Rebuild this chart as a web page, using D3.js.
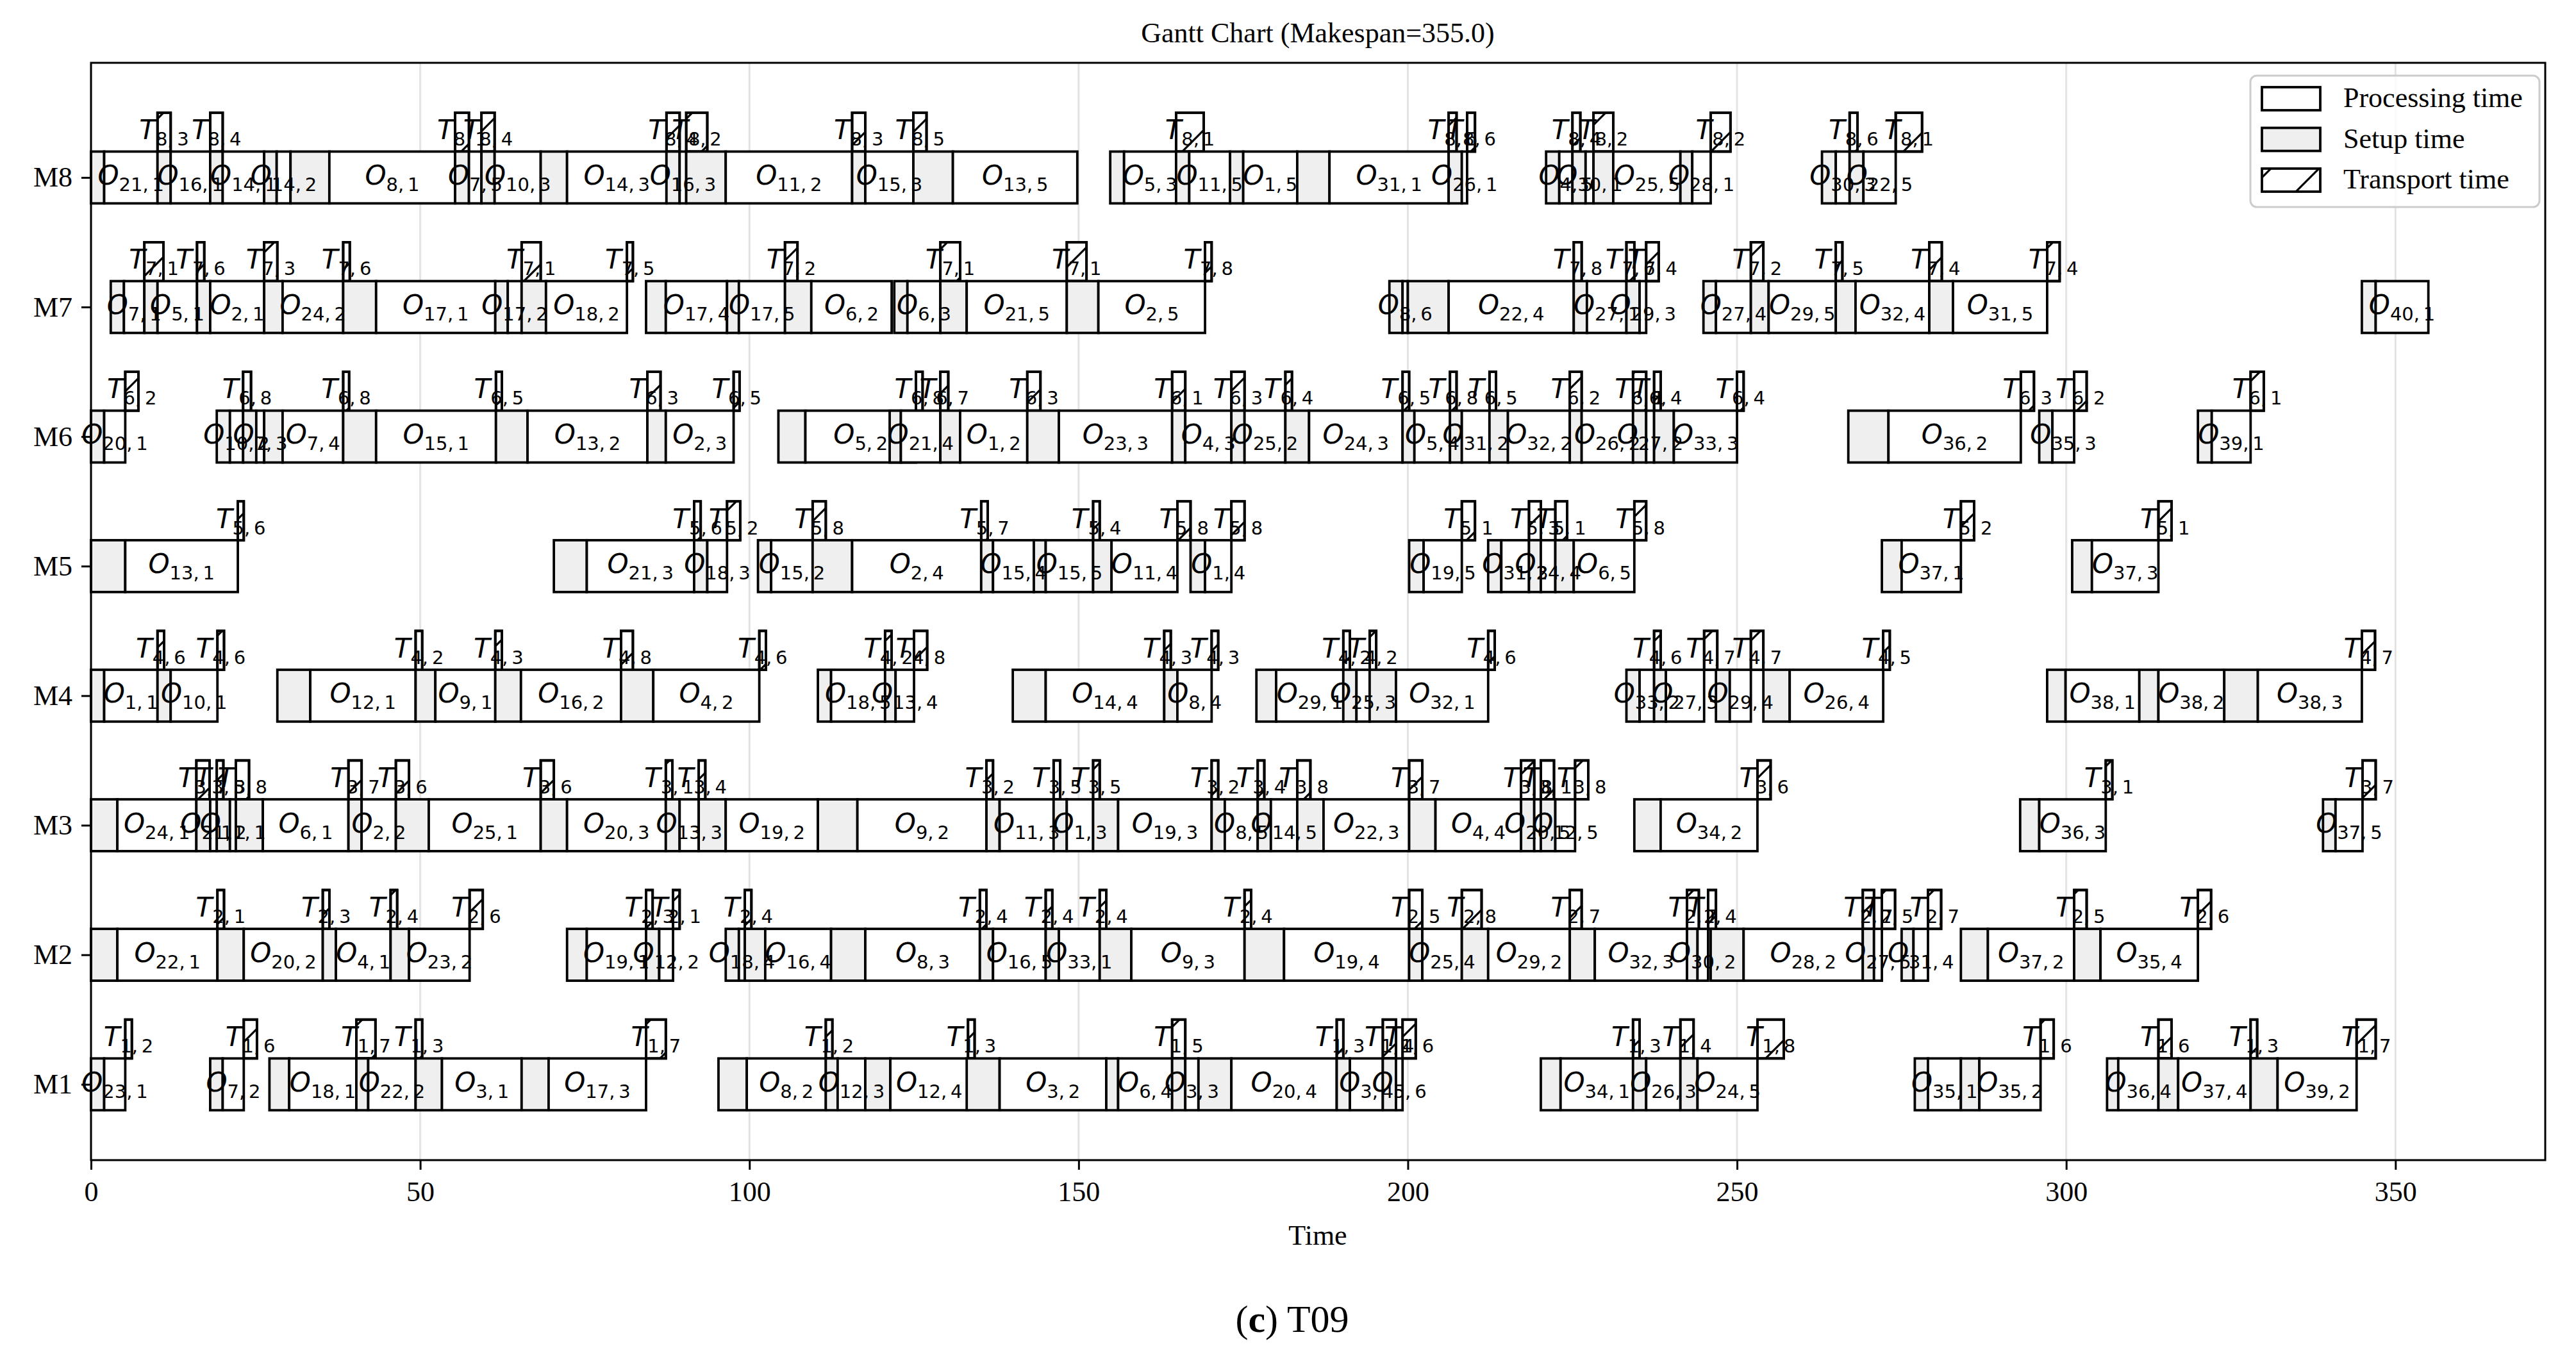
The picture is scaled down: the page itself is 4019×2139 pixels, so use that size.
<!DOCTYPE html>
<html>
<head>
<meta charset="utf-8">
<script src="https://cdn.jsdelivr.net/npm/d3@7"></script>
<style>
  body { margin: 0; background: #fff; }
</style>
</head>
<body>
<div id="chart"></div>
<script>
const machines = ["M1", "M2", "M3", "M4", "M5", "M6", "M7", "M8"];

// [operation, start, setup, processing, transport, transport time]
const opsM1 = [
  ["23,1", 0, 2.0, 3.2, "1,2", 1.0], ["7,2", 18.1, 1.9, 3.2, "1,6", 2.0],
  ["18,1", 27.1, 3.0, 10.2, "1,7", 2.9], ["22,2", 40.3, 1.8, 7.2, "1,3", 1.0],
  ["3,1", 49.3, 4.0, 12.1, null, 0], ["17,3", 65.4, 4.1, 14.8, "1,7", 3.0],
  ["8,2", 95.3, 4.3, 12.0, "1,2", 1.0], ["12,3", 111.6, 1.8, 4.2, null, 0],
  ["12,4", 117.6, 3.8, 11.8, "1,3", 1.0], ["3,2", 133.0, 5.0, 16.2, null, 0],
  ["6,4", 154.2, 1.8, 8.2, "1,5", 2.0], ["3,3", 164.2, 2.0, 2.0, null, 0],
  ["20,4", 168.2, 5.0, 16.0, "1,3", 1.0], ["3,4", 189.2, 2.0, 5.0, "1,4", 2.0],
  ["5,6", 196.2, 2.0, 1.0, "1,6", 2.0], ["34,1", 220.2, 3.0, 11.0, "1,3", 1.0],
  ["26,3", 234.2, 2.0, 5.2, "1,4", 2.0], ["24,5", 241.4, 2.6, 9.1, "1,8", 4.0],
  ["35,1", 277.0, 2.0, 5.0, null, 0], ["35,2", 284.0, 2.8, 9.3, "1,6", 2.0],
  ["36,4", 306.2, 1.7, 6.1, "1,6", 2.0], ["37,4", 314.0, 3.0, 11.0, "1,3", 1.0],
  ["39,2", 328.0, 4.1, 12.0, "1,7", 2.9]
];
const opsM2 = [
  ["22,1", 0, 4.0, 15.2, "2,1", 1.0], ["20,2", 19.2, 4.0, 12.0, "2,3", 1.0],
  ["4,1", 35.2, 2.0, 8.3, "2,4", 1.0], ["23,2", 45.5, 2.8, 9.2, "2,6", 2.0],
  ["19,1", 72.3, 3.0, 9.0, "2,3", 1.0], ["12,2", 84.3, 2.0, 2.1, "2,1", 1.0],
  ["18,4", 96.4, 2.0, 0.9, "2,4", 1.0], ["16,4", 99.3, 3.1, 10.0, null, 0],
  ["8,3", 112.4, 5.2, 17.4, "2,4", 1.0], ["16,5", 135.0, 2.0, 8.0, "2,4", 1.0],
  ["33,1", 145.0, 2.0, 6.2, "2,4", 1.0], ["9,3", 153.2, 4.8, 17.2, "2,4", 1.0],
  ["19,4", 175.2, 6.0, 19.0, "2,5", 2.0], ["25,4", 200.2, 2.0, 6.0, "2,8", 3.0],
  ["29,2", 208.2, 4.0, 12.4, "2,7", 1.8], ["32,3", 224.6, 3.8, 14.0, "2,7", 1.8],
  ["30,2", 242.4, 1.6, 1.6, "2,4", 1.2], ["28,2", 246.0, 5.0, 18.1, "2,7", 1.7],
  ["27,5", 269.1, 1.7, 1.2, "2,5", 2.0], ["31,4", 275.0, 1.8, 2.2, "2,7", 2.0],
  ["37,2", 284.0, 4.1, 13.1, "2,5", 1.9], ["35,4", 301.2, 4.0, 14.8, "2,6", 2.0]
];
const opsM3 = [
  ["24,1", 0, 4.0, 12.0, "3,7", 2.0], ["21,2", 16.0, 2.1, 1.0, "3,5", 1.0],
  ["11,1", 19.1, 2.0, 0.9, "3,8", 2.0], ["6,1", 22.0, 4.1, 13.0, "3,7", 2.0],
  ["2,2", 39.1, 2.0, 5.2, "3,6", 2.0], ["25,1", 46.3, 5.0, 17.0, "3,6", 2.0],
  ["20,3", 68.3, 4.0, 15.0, "3,1", 1.0], ["13,3", 87.3, 2.1, 2.9, "3,4", 1.0],
  ["19,2", 92.3, 4.1, 14.0, null, 0], ["9,2", 110.4, 6.0, 19.6, "3,2", 1.0],
  ["11,3", 136.0, 2.0, 8.2, "3,5", 1.0], ["1,3", 146.2, 2.0, 4.0, "3,5", 1.0],
  ["19,3", 152.2, 3.8, 14.2, "3,2", 1.0], ["8,5", 170.2, 2.0, 5.0, "3,4", 1.0],
  ["14,5", 177.2, 2.0, 4.0, "3,8", 2.0], ["22,3", 183.2, 4.0, 13.0, "3,7", 2.0],
  ["4,4", 200.2, 4.0, 13.0, "3,8", 2.0], ["20,5", 217.2, 2.0, 1.0, "3,1", 2.0],
  ["12,5", 220.2, 2.2, 3.0, "3,8", 2.0], ["34,2", 234.4, 4.0, 14.7, "3,6", 2.0],
  ["36,3", 293.0, 2.9, 10.1, "3,1", 1.0], ["37,5", 339.0, 1.9, 4.1, "3,7", 2.0]
];
const opsM4 = [
  ["1,1", 0, 2.0, 8.1, "4,6", 1.0], ["10,1", 10.1, 2.0, 7.1, "4,6", 1.0],
  ["12,1", 28.3, 5.0, 16.0, "4,2", 1.0], ["9,1", 49.3, 3.0, 9.1, "4,3", 1.0],
  ["16,2", 61.4, 3.9, 15.2, "4,8", 1.8], ["4,2", 80.5, 4.9, 16.1, "4,6", 1.0],
  ["18,5", 110.4, 2.0, 8.2, "4,2", 1.0], ["13,4", 120.6, 1.6, 2.8, "4,8", 2.0],
  ["14,4", 140.0, 5.0, 18.0, "4,3", 1.0], ["8,4", 163.0, 2.0, 5.2, "4,3", 1.0],
  ["29,1", 177.0, 3.0, 10.2, "4,2", 1.0], ["25,3", 190.2, 2.0, 2.0, "4,2", 1.0],
  ["32,1", 194.2, 4.0, 14.0, "4,6", 1.0], ["33,2", 233.2, 2.0, 2.2, "4,6", 1.0],
  ["27,3", 237.4, 1.8, 5.8, "4,7", 2.0], ["29,4", 246.8, 2.1, 3.2, "4,7", 1.9],
  ["26,4", 254.0, 4.0, 14.2, "4,5", 1.0], ["38,1", 297.1, 2.8, 11.2, null, 0],
  ["38,2", 311.1, 2.9, 10.0, null, 0], ["38,3", 324.0, 5.1, 15.8, "4,7", 2.0]
];
const opsM5 = [
  ["13,1", 0, 5.2, 17.1, "5,6", 0.9], ["21,3", 70.3, 5.0, 16.3, "5,6", 1.0],
  ["18,3", 91.6, 2.0, 3.0, "5,2", 2.0], ["15,2", 101.3, 2.0, 6.3, "5,8", 2.0],
  ["2,4", 109.6, 6.0, 19.6, "5,7", 1.0], ["15,4", 135.2, 1.8, 6.2, null, 0],
  ["15,5", 143.2, 1.8, 7.2, "5,4", 1.0], ["11,4", 152.2, 2.8, 10.0, "5,8", 2.0],
  ["1,4", 167.0, 2.2, 4.0, "5,8", 2.0], ["19,5", 200.2, 2.2, 5.8, "5,1", 2.0],
  ["31,3", 212.2, 2.0, 4.2, "5,3", 1.8], ["24,4", 218.4, 1.8, 2.2, "5,1", 1.8],
  ["6,5", 222.4, 2.8, 9.2, "5,8", 1.8], ["37,1", 272.0, 3.0, 9.0, "5,2", 2.0],
  ["37,3", 300.9, 3.0, 10.1, "5,1", 2.0]
];
const opsM6 = [
  ["20,1", 0, 2.0, 3.2, "6,2", 2.0], ["10,2", 19.1, 2.0, 2.0, "6,8", 1.2],
  ["7,3", 23.1, 2.0, 1.2, null, 0], ["7,4", 26.3, 2.8, 9.2, "6,8", 0.9],
  ["15,1", 38.3, 5.0, 18.2, "6,5", 0.9], ["13,2", 61.5, 4.8, 18.2, "6,3", 2.0],
  ["2,3", 84.5, 2.8, 10.3, "6,5", 0.9], ["5,2", 104.4, 4.1, 16.8, "6,8", 1.0],
  ["21,4", 121.3, 1.7, 6.0, "6,7", 1.2], ["1,2", 129.0, 3.0, 10.2, "6,3", 2.0],
  ["23,3", 142.2, 4.8, 17.2, "6,1", 2.0], ["4,3", 164.2, 2.0, 7.0, "6,3", 2.0],
  ["25,2", 173.2, 2.0, 6.2, "6,4", 1.0], ["24,3", 181.4, 3.6, 14.2, "6,5", 1.0],
  ["5,4", 199.2, 1.8, 5.4, "6,8", 1.0], ["31,2", 206.4, 1.8, 4.2, "6,5", 1.0],
  ["32,2", 212.4, 2.8, 9.4, "6,2", 1.8], ["26,2", 224.6, 1.8, 7.8, "6,1", 2.0],
  ["27,2", 234.2, 2.0, 1.2, "6,4", 1.0], ["33,3", 237.4, 3.0, 9.6, "6,4", 1.0],
  ["36,2", 266.9, 6.1, 20.1, "6,3", 2.0], ["35,3", 295.9, 2.0, 3.3, "6,2", 1.9],
  ["39,1", 320.0, 2.1, 5.9, "6,1", 2.0]
];
const opsM7 = [
  ["7,1", 3.0, 2.0, 3.1, "7,1", 2.9], ["5,1", 8.1, 2.0, 6.0, "7,6", 1.1],
  ["2,1", 16.1, 2.0, 8.2, "7,3", 2.0], ["24,2", 26.3, 2.8, 9.2, "7,6", 1.0],
  ["17,1", 38.3, 5.0, 18.1, null, 0], ["17,2", 61.4, 1.9, 2.1, "7,1", 2.9],
  ["18,2", 65.4, 3.7, 12.3, "7,5", 0.9], ["17,4", 84.3, 3.0, 9.3, null, 0],
  ["17,5", 96.6, 1.8, 7.0, "7,2", 1.9], ["6,2", 105.4, 4.0, 12.2, null, 0],
  ["6,3", 122.0, 2.0, 5.0, "7,1", 3.0], ["21,5", 129.0, 4.0, 15.2, "7,1", 3.0],
  ["2,5", 148.2, 4.8, 16.2, "7,8", 1.0], ["8,6", 197.2, 2.0, 0.8, null, 0],
  ["22,4", 200.0, 6.2, 19.0, "7,8", 1.2], ["27,1", 225.2, 2.0, 6.0, "7,6", 1.2],
  ["29,3", 233.2, 2.0, 1.0, "7,4", 1.9], ["27,4", 244.9, 1.9, 5.3, "7,2", 1.9],
  ["29,5", 252.1, 2.7, 10.2, "7,5", 1.0], ["32,4", 265.0, 3.0, 11.2, "7,4", 1.9],
  ["31,5", 279.2, 3.6, 14.3, "7,4", 1.9], ["40,1", 344.9, 2.1, 8.0, null, 0]
];
const opsM8 = [
  ["21,1", 0, 2.0, 8.1, "8,3", 2.0], ["16,1", 10.1, 2.0, 6.0, "8,4", 1.9],
  ["14,1", 18.1, 1.9, 6.3, null, 0], ["14,2", 26.3, 1.9, 2.1, null, 0],
  ["8,1", 30.3, 5.9, 19.1, "8,1", 2.1], ["7,5", 55.3, 2.1, 1.9, "8,4", 2.0],
  ["10,3", 59.3, 2.0, 7.0, null, 0], ["14,3", 68.3, 4.0, 15.1, "8,4", 2.0],
  ["16,3", 87.4, 2.0, 1.0, "8,2", 3.2], ["11,2", 90.4, 6.0, 19.2, "8,3", 2.0],
  ["15,3", 115.6, 2.0, 7.3, "8,5", 2.0], ["13,5", 124.9, 6.0, 18.9, null, 0],
  ["5,3", 154.8, 2.1, 7.9, "8,1", 4.2], ["11,5", 164.8, 2.0, 6.2, null, 0],
  ["1,5", 173.0, 2.0, 8.2, null, 0], ["31,1", 183.2, 4.9, 18.1, "8,6", 1.2],
  ["26,1", 206.2, 2.0, 0.8, "8,6", 1.2], ["4,5", 221.0, 2.0, 2.0, "8,4", 1.2],
  ["30,1", 225.0, 2.0, 1.2, "8,2", 3.0], ["25,5", 228.2, 3.0, 10.2, null, 0],
  ["28,1", 241.4, 1.8, 2.8, "8,2", 3.0], ["30,3", 262.9, 2.1, 2.1, "8,6", 1.2],
  ["22,5", 267.1, 2.1, 4.9, "8,1", 4.0]
];

const xTicks = [0, 50, 100, 150, 200, 250, 300, 350];
const legendLabels = ["Processing time", "Setup time", "Transport time"];
const chartTitle = "Gantt Chart (Makespan=355.0)";

document.addEventListener("DOMContentLoaded", draw);

function draw() {
  const width = 4019, height = 2139;
  const serif = "'Liberation Serif', 'Times New Roman', serif";
  const svg = d3.select("#chart").append("svg")
    .attr("width", width).attr("height", height);
  svg.append("rect").attr("width", width).attr("height", height).attr("fill", "#fff");

  const x = d3.scaleLinear().domain([0, 372.75]).range([142, 3971]);
  const y = d3.scaleLinear().domain([0.415, 8.885]).range([1810, 98]);

  svg.append("defs").append("pattern")
    .attr("id", "hatch").attr("patternUnits", "userSpaceOnUse")
    .attr("x", 56).attr("y", 0).attr("width", 75).attr("height", 75)
    .append("path")
    .attr("d", "M-8,8 L8,-8 M0,75 L75,0 M67,83 L83,67")
    .attr("stroke", "#000").attr("stroke-width", 3.2);

  // grid
  svg.append("g").selectAll("line").data(xTicks).join("line")
    .attr("x1", d => x(d)).attr("x2", d => x(d))
    .attr("y1", y.range()[1]).attr("y2", y.range()[0])
    .attr("stroke", "#e3e3e3").attr("stroke-width", 3);

  const rows = [opsM1, opsM2, opsM3, opsM4, opsM5, opsM6, opsM7, opsM8];
  const tasks = rows.flatMap((ops, i) => ops.map(([op, start, setup, proc, tr, trTime]) =>
    ({m: i + 1, op, start, setup, proc, tr, trTime})));

  const bars = svg.append("g").attr("stroke", "#000").attr("stroke-width", 3.8);
  tasks.forEach(t => {
    const top = y(t.m + 0.2), h = y(t.m - 0.2) - top;
    const p0 = t.start + t.setup, p1 = p0 + t.proc;
    if (t.setup > 0) {
      bars.append("rect").attr("x", x(t.start)).attr("y", top)
        .attr("width", x(p0) - x(t.start)).attr("height", h).attr("fill", "#efefef");
    }
    bars.append("rect").attr("x", x(p0)).attr("y", top)
      .attr("width", x(p1) - x(p0)).attr("height", h).attr("fill", "#fff");
    if (t.tr) {
      const tt = y(t.m + 0.5);
      bars.append("rect").attr("x", x(p1)).attr("y", tt)
        .attr("width", x(p1 + t.trTime) - x(p1)).attr("height", top - tt).attr("fill", "#fff");
      bars.append("rect").attr("x", x(p1)).attr("y", tt)
        .attr("width", x(p1 + t.trTime) - x(p1)).attr("height", top - tt).attr("fill", "url(#hatch)");
    }
  });

  const labels = svg.append("g").attr("font-family", "'DejaVu Sans', sans-serif").attr("fill", "#000");
  function mathLabel(cx, cy, base, sub) {
    const txt = labels.append("text").attr("x", cx).attr("y", cy + 11).attr("text-anchor", "middle");
    txt.append("tspan").attr("font-style", "italic").attr("font-size", 42).text(base);
    txt.append("tspan").attr("font-size", 29).attr("dy", 10).text(sub.replace(",", ",\u2009"));
  }
  tasks.forEach(t => {
    const p0 = t.start + t.setup, p1 = p0 + t.proc;
    mathLabel((x(p0) + x(p1)) / 2, y(t.m), "O", t.op);
    if (t.tr) mathLabel((x(p1) + x(p1 + t.trTime)) / 2, y(t.m + 0.35), "T", t.tr);
  });

  // frame and axes
  svg.append("rect").attr("x", 142).attr("y", 98).attr("width", 3829).attr("height", 1712)
    .attr("fill", "none").attr("stroke", "#000").attr("stroke-width", 3);

  const xAxis = svg.append("g").attr("transform", "translate(0,1810)")
    .call(d3.axisBottom(x).tickValues(xTicks).tickFormat(d3.format("d"))
      .tickSize(15).tickPadding(18).tickSizeOuter(0));
  const yAxis = svg.append("g").attr("transform", "translate(142,0)")
    .call(d3.axisLeft(y).tickValues(d3.range(1, 9)).tickFormat(d => machines[d - 1])
      .tickSize(15).tickPadding(14).tickSizeOuter(0));
  [xAxis, yAxis].forEach(a => {
    a.select(".domain").remove();
    a.selectAll(".tick line").attr("stroke", "#000").attr("stroke-width", 3);
    a.selectAll(".tick text").attr("font-family", serif).attr("font-size", 44).attr("fill", "#000");
  });

  svg.append("text").attr("x", 2056).attr("y", 1942).attr("text-anchor", "middle")
    .attr("font-family", serif).attr("font-size", 44).text("Time");
  svg.append("text").attr("x", 2056).attr("y", 66).attr("text-anchor", "middle")
    .attr("font-family", serif).attr("font-size", 44).text(chartTitle);

  // legend
  const lg = svg.append("g");
  lg.append("rect").attr("x", 3511).attr("y", 118).attr("width", 451).attr("height", 205)
    .attr("rx", 10).attr("fill", "#fff").attr("fill-opacity", 0.8)
    .attr("stroke", "#cccccc").attr("stroke-width", 3);
  const fills = ["#fff", "#efefef", "#fff"];
  legendLabels.forEach((name, i) => {
    const cy = 154 + i * 63.5;
    lg.append("rect").attr("x", 3529).attr("y", cy - 18).attr("width", 91).attr("height", 36)
      .attr("fill", fills[i]).attr("stroke", "#000").attr("stroke-width", 3.8);
    if (i === 2) {
      lg.append("rect").attr("x", 3529).attr("y", cy - 18).attr("width", 91).attr("height", 36)
        .attr("fill", "url(#hatch)").attr("stroke", "none");
    }
    lg.append("text").attr("x", 3656).attr("y", cy + 13)
      .attr("font-family", serif).attr("font-size", 44).text(name);
  });

  // caption
  const cap = svg.append("text").attr("x", 2016).attr("y", 2078).attr("text-anchor", "middle")
    .attr("font-family", serif).attr("font-size", 60);
  cap.append("tspan").text("(");
  cap.append("tspan").attr("font-weight", "bold").text("c");
  cap.append("tspan").text(") T09");
}
</script>
</body>
</html>
